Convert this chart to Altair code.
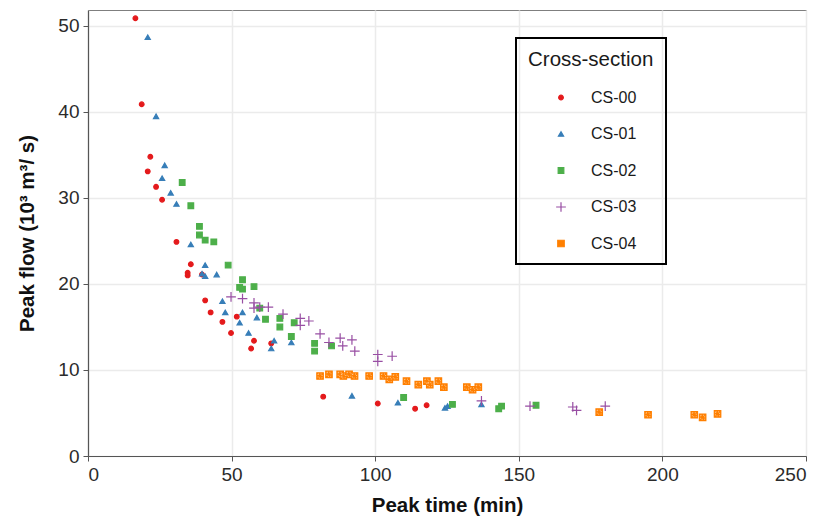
import altair as alt
import pandas as pd

series = ["CS-00", "CS-01", "CS-02", "CS-03", "CS-04"]
colors = ["#e41a1c", "#377eb8", "#4daf4a", "#984ea3", "#ff7f00"]
shapes = ["circle", "triangle-up", "square", "M-1.6,0H1.6M0,-1.6V1.6", "square"]
sizes = [22, 42, 34, 56, 58]

cs00_t = [16.5, 18.7, 21.7, 20.8, 23.7, 25.8, 30.8, 35.8, 34.7, 34.7, 39.7, 40.8, 42.7,
          46.8, 49.8, 51.8, 57.8, 56.8, 63.8, 81.9, 100.9, 113.9, 117.9]
cs00_q = [50.9, 40.9, 34.8, 33.1, 31.3, 29.8, 24.9, 22.3, 21.3, 21.0, 21.1, 18.1, 16.7,
          15.6, 14.3, 16.2, 13.4, 12.5, 13.1, 6.9, 6.1, 5.5, 5.9]

cs01_t = [20.8, 23.7, 26.7, 25.8, 28.8, 30.8, 35.8, 40.8, 39.7, 40.8, 44.8, 46.8, 47.8,
          52.8, 53.8, 55.9, 58.8, 63.8, 64.8, 70.8, 91.9, 107.9, 124.3, 125.2, 137.0]
cs01_q = [48.7, 39.5, 33.8, 32.3, 30.6, 29.3, 24.6, 22.2, 21.2, 20.9, 21.1, 18.0, 16.7,
          15.5, 16.7, 14.3, 16.1, 12.5, 13.4, 13.2, 7.0, 6.2, 5.6, 5.8, 6.0]

cs02_t = [32.8, 35.8, 38.8, 38.8, 40.8, 43.8, 48.8, 52.8, 53.8, 53.8, 57.8, 59.8, 61.8,
          66.8, 66.8, 71.8, 70.8, 78.9, 78.9, 84.8, 109.9, 126.9, 143.0, 144.0, 156.0]
cs02_q = [31.8, 29.1, 26.7, 25.7, 25.1, 24.9, 22.2, 19.6, 20.5, 19.4, 19.7, 17.2, 15.9,
          16.0, 15.0, 15.5, 13.9, 13.1, 12.2, 12.8, 6.8, 6.0, 5.5, 5.8, 5.9]

cs03_t = [49.8, 53.8, 57.8, 57.8, 59.8, 62.8, 67.9, 73.9, 73.9, 76.9, 80.8, 83.9, 87.8,
          88.7, 91.9, 92.9, 100.9, 100.9, 105.9, 137.0, 153.9, 168.8, 170.1, 180.1]
cs03_q = [18.5, 18.3, 17.8, 17.2, 17.3, 17.3, 16.5, 16.0, 15.2, 15.7, 14.2, 13.2, 13.7,
          12.8, 13.5, 12.2, 11.8, 11.0, 11.6, 6.4, 5.8, 5.7, 5.3, 5.8]

cs04_t = [80.8, 83.9, 87.8, 88.9, 90.9, 92.8, 97.9, 102.9, 104.9, 107.0, 110.9, 115.0,
          118.0, 119.0, 122.0, 123.9, 131.9, 133.9, 135.9, 178.0, 195.0, 211.1, 214.0, 219.2]
cs04_q = [9.3, 9.5, 9.5, 9.3, 9.5, 9.3, 9.3, 9.3, 8.9, 9.2, 8.7, 8.3,
          8.7, 8.3, 8.7, 8.0, 8.0, 7.7, 8.0, 5.1, 4.8, 4.8, 4.5, 4.9]

x_ticks = [0, 50, 100, 150, 200, 250]
y_ticks = [0, 10, 20, 30, 40, 50]

rows = []
for name, ts, qs in zip(series, [cs00_t, cs01_t, cs02_t, cs03_t, cs04_t],
                        [cs00_q, cs01_q, cs02_q, cs03_q, cs04_q]):
    for t, q in zip(ts, qs):
        rows.append({"t": t, "q": q, "cs": name, "grp": name})
df = pd.DataFrame(rows)

FONT = "Liberation Sans"

leg = alt.Legend(
    title="Cross-section", orient="none", legendX=428, legendY=28,
    strokeColor="black", padding=12, titleFontSize=20.5, titleFontWeight="normal",
    titleFont=FONT, titleColor="#1a1a1a", titlePadding=19, labelFont=FONT,
    labelFontSize=16, labelColor="#1a1a1a", symbolSize=40, symbolStrokeWidth=1.2,
    symbolOffset=25, labelOffset=22, rowPadding=20.5,
)

x_enc = alt.X("t:Q", scale=alt.Scale(domain=[0, 250], nice=False),
              axis=alt.Axis(values=x_ticks, title="Peak time (min)", titlePadding=11))
y_enc = alt.Y("q:Q", scale=alt.Scale(domain=[0, 51.86], nice=False),
              axis=alt.Axis(values=y_ticks, title="Peak flow (10³ m³/ s)", titlePadding=20))

points = alt.Chart(df).mark_point(filled=True, strokeWidth=1.2, opacity=1).encode(
    x=x_enc,
    y=y_enc,
    color=alt.Color("cs:N", scale=alt.Scale(domain=series, range=colors), legend=leg),
    stroke=alt.Stroke("cs:N", scale=alt.Scale(domain=series, range=colors), legend=None),
    shape=alt.Shape("cs:N", scale=alt.Scale(domain=series, range=shapes), legend=leg),
    size=alt.Size("grp:N", scale=alt.Scale(domain=series, range=sizes), legend=None),
)

hatch = alt.Chart(df).transform_filter(alt.datum.cs == "CS-04").mark_point(
    shape="square", filled=False, stroke="#ffd3a3", strokeWidth=0.8,
    strokeDash=[1, 1.5], size=16, opacity=1
).encode(x=x_enc, y=y_enc)

chart = alt.layer(points, hatch).properties(
    width=718, height=446,
    autosize=alt.AutoSizeParams(type="none"),
    padding={"left": 88, "top": 10, "right": 19, "bottom": 64},
).configure_view(
    stroke="#7f7f7f", strokeWidth=1
).configure_axis(
    labelFont=FONT, labelFontSize=19, labelColor="#2b2b2b", labelPadding=4,
    titleFont=FONT, titleFontSize=20.5, titleFontWeight="bold", titleColor="#111",
    tickColor="#555", tickSize=5, domainColor="#555", domainWidth=1.2,
    gridColor="#ebebeb", gridWidth=1.5,
).configure_legend(
    strokeWidth=2
)

chart.save("out.html", embed_options={"renderer": "svg", "actions": False})
